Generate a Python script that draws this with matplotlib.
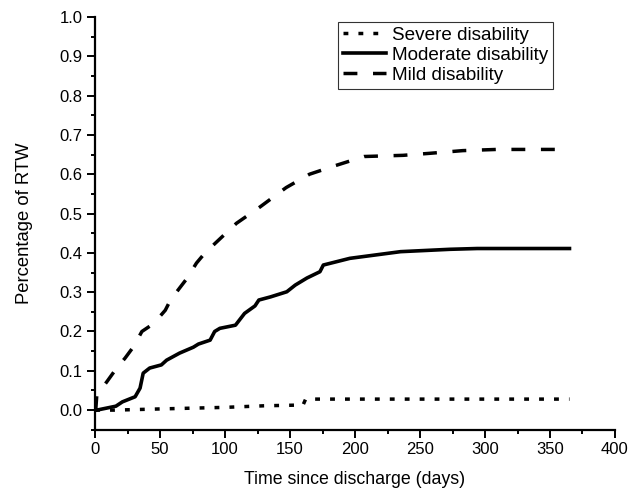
import matplotlib
matplotlib.use('Agg')
import matplotlib.pyplot as plt

plt.rcParams['font.family'] = ['Liberation Sans', 'DejaVu Sans']

# days since discharge / proportion returned to work
severe_days = [0, 15, 50, 100, 130, 160, 162, 365]
severe_rtw = [0.0, 0.0, 0.003, 0.007, 0.011, 0.013, 0.028, 0.028]

moderate_days = [1.3, 16, 21, 30.8, 34.6, 37, 42, 51, 55, 65, 75.6, 79.5, 88.5, 92, 96,
                 108, 115, 123, 126, 135, 147.5, 154, 163, 173, 175.6, 196, 235, 273,
                 294, 365]
moderate_rtw = [0.0, 0.01, 0.021, 0.034, 0.056, 0.094, 0.107, 0.115, 0.127, 0.145, 0.16,
                0.168, 0.178, 0.2, 0.208, 0.216, 0.246, 0.265, 0.28, 0.288, 0.301, 0.318,
                0.336, 0.352, 0.369, 0.386, 0.403, 0.409, 0.411, 0.411]

mild_days = [0.5, 1.3, 9, 16.4, 23, 29.5, 36, 45, 54, 58, 65.6, 70.7, 78, 84.6, 93.6,
             108.7, 127, 147, 165, 185, 207, 237, 257, 283, 309, 365]
mild_rtw = [0.0, 0.038, 0.072, 0.106, 0.132, 0.161, 0.2, 0.22, 0.254, 0.28, 0.313, 0.335,
            0.374, 0.4, 0.428, 0.475, 0.517, 0.566, 0.6, 0.622, 0.645, 0.648, 0.653,
            0.66, 0.663, 0.663]

fig = plt.figure(figsize=(6.34, 4.98), dpi=100)
ax = fig.add_axes([0.15, 0.137, 0.82, 0.829])

ax.plot(severe_days, severe_rtw, color='black', lw=2.5,
        linestyle=(0, (1.4, 2.9)), dash_capstyle='butt', label='Severe disability')
ax.plot(moderate_days, moderate_rtw, color='black', lw=2.6,
        linestyle='-', label='Moderate disability')
ax.plot(mild_days, mild_rtw, color='black', lw=2.5,
        linestyle=(0, (4, 4.5)), dash_capstyle='butt', label='Mild disability')

ax.set_xlim(0, 400)
ax.set_ylim(-0.05, 1.0)
ax.set_xticks(range(0, 401, 50))
ax.set_xticks(range(25, 400, 50), minor=True)
ax.set_yticks([i / 10 for i in range(11)])
ax.set_yticklabels(['%.1f' % (i / 10) for i in range(11)])
ax.set_yticks([i / 10 + 0.05 for i in range(-1, 10)], minor=True)

for s in ['top', 'right']:
    ax.spines[s].set_visible(False)
for s in ['left', 'bottom']:
    ax.spines[s].set_linewidth(1.6)

ax.tick_params(which='major', direction='out', length=5.5, width=1.4, labelsize=12)
ax.tick_params(which='minor', direction='out', length=3, width=1.4)

ax.set_xlabel('Time since discharge (days)', fontsize=12.8, labelpad=10)
ax.set_ylabel('Percentage of RTW', fontsize=13.3, labelpad=19)

leg = ax.legend(loc='upper left', bbox_to_anchor=(338 / 634, 1 - 22 / 498),
                bbox_transform=fig.transFigure, borderaxespad=0, fontsize=13.6,
                frameon=True, fancybox=False, handlelength=2.3, handletextpad=0.3,
                labelspacing=0.15, borderpad=0.25)
leg.get_frame().set_edgecolor('black')
leg.get_frame().set_linewidth(0.8)

fig.savefig('out.png', dpi=100)
